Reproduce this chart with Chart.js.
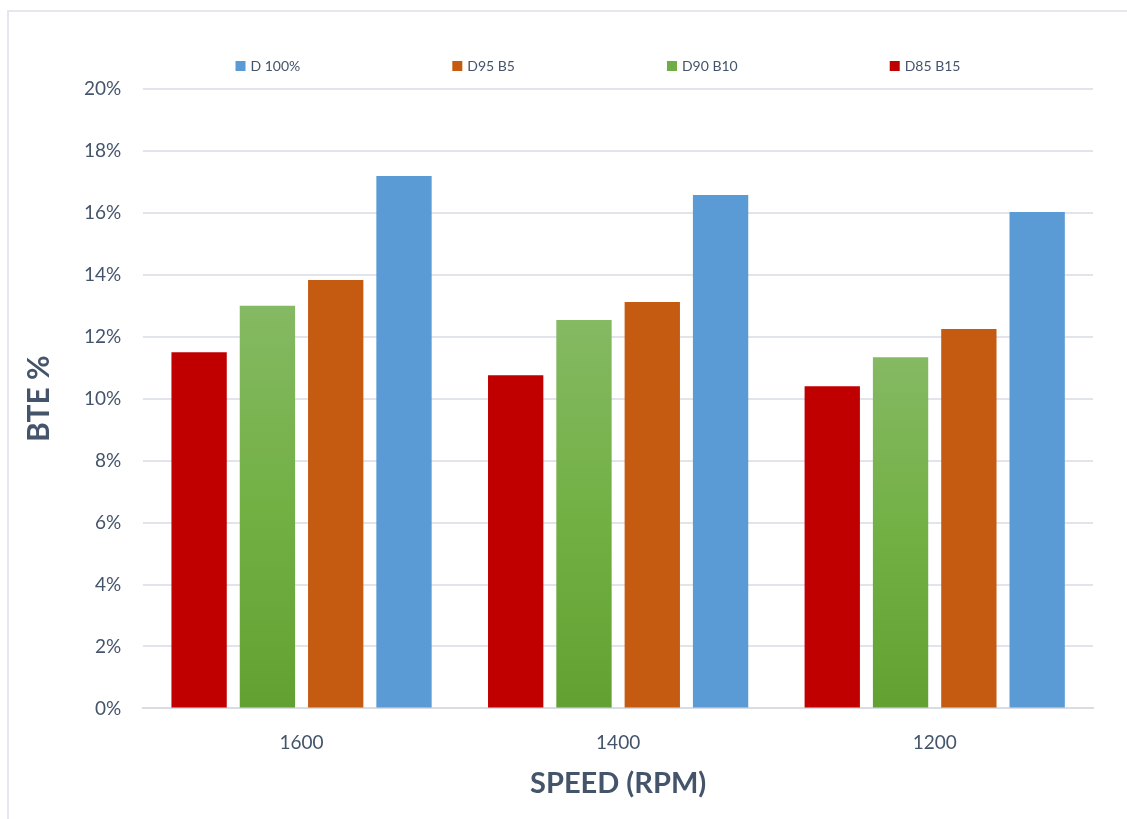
<!DOCTYPE html>
<html>
<head>
<meta charset="utf-8">
<script src="https://cdn.jsdelivr.net/npm/chart.js@4/dist/chart.umd.min.js"></script>
<style>
  html, body { margin: 0; padding: 0; background: #fff; }
  #wrap { position: relative; width: 1127px; height: 819px; }
  #frame { position: absolute; left: 7px; top: 10px; right: 0; bottom: 0;
           border-left: 2px solid #e4e7ed; border-top: 2px solid #e4e7ed; }
  canvas { position: absolute; left: 0; top: 0; }
</style>
</head>
<body>
<div id="wrap">
  <div id="frame"></div>
  <canvas id="c" width="1127" height="819"></canvas>
</div>
<script>
// Engine speeds on the x axis
const speeds = ['1600', '1400', '1200'];

// Brake thermal efficiency (%) for each fuel blend
const d85b15 = [11.5, 10.76, 10.4];
const d90b10 = [13.0, 12.54, 11.34];
const d95b5  = [13.83, 13.12, 12.25];
const d100   = [17.19, 16.58, 16.03];

const yTicks = [0, 2, 4, 6, 8, 10, 12, 14, 16, 18, 20];

const textColor = '#44546a';
const font = 'Lato, "Open Sans", sans-serif';

// Green bars fade from a lighter top to a deeper base
function greenFill(ctx) {
  const chart = ctx.chart;
  const area = chart.chartArea;
  if (!area || ctx.type !== 'data') return '#70ad47';
  const y = chart.scales.y;
  const top = y.getPixelForValue(ctx.raw);
  const bottom = y.getPixelForValue(0);
  if (!isFinite(top) || bottom - top < 1) return '#70ad47';
  const g = chart.ctx.createLinearGradient(0, top, 0, bottom);
  g.addColorStop(0, '#85b963');
  g.addColorStop(0.5, '#72b044');
  g.addColorStop(1, '#62a131');
  return g;
}

// Wide, evenly padded legend row above the plot (series listed in reverse)
const spacedLegend = {
  id: 'spacedLegend',
  afterDraw(chart, args, opts) {
    const ctx = chart.ctx;
    const items = chart.data.datasets.map((ds, i) => ({
      text: ds.label,
      color: ds.legendColor || ds.backgroundColor
    })).reverse();
    ctx.save();
    ctx.font = opts.fontSize + 'px ' + font;
    const widths = items.map(it => opts.box + opts.gap + ctx.measureText(it.text).width);
    const total = widths.reduce((a, b) => a + b, 0) + opts.padding * (items.length - 1);
    let x = opts.centerX - total / 2;
    ctx.textBaseline = 'middle';
    ctx.textAlign = 'left';
    items.forEach((it, i) => {
      ctx.fillStyle = it.color;
      ctx.fillRect(x, opts.y - opts.box / 2, opts.box, opts.box);
      ctx.fillStyle = textColor;
      ctx.fillText(it.text, x + opts.box + opts.gap, opts.y);
      x += widths[i] + opts.padding;
    });
    ctx.restore();
  }
};

const barOpts = { barPercentage: 0.81, categoryPercentage: 0.863, borderWidth: 0 };

new Chart(document.getElementById('c'), {
  type: 'bar',
  data: {
    labels: speeds,
    datasets: [
      { label: 'D85 B15', data: d85b15, backgroundColor: '#c00000', ...barOpts },
      { label: 'D90 B10', data: d90b10, backgroundColor: greenFill, legendColor: '#70ad47', ...barOpts },
      { label: 'D95 B5',  data: d95b5,  backgroundColor: '#c55a11', ...barOpts },
      { label: 'D 100%',  data: d100,   backgroundColor: '#5b9bd5', ...barOpts }
    ]
  },
  plugins: [spacedLegend],
  options: {
    responsive: false,
    animation: false,
    layout: { padding: { left: 21, right: 34, top: 89, bottom: 18 } },
    plugins: {
      tooltip: { enabled: false },
      legend: { display: false },
      spacedLegend: { centerX: 598, y: 66, box: 10, gap: 5, padding: 152, fontSize: 14 }
    },
    scales: {
      x: {
        grid: { display: false },
        border: { color: '#d9dce3', width: 2 },
        ticks: { color: textColor, font: { family: font, size: 19 }, padding: 15 },
        title: {
          display: true,
          text: 'SPEED (RPM)',
          color: textColor,
          font: { family: font, size: 29, weight: 'bold' },
          padding: { top: -3, bottom: 0 }
        }
      },
      y: {
        min: 0,
        max: 20,
        afterBuildTicks(axis) { axis.ticks = yTicks.map(v => ({ value: v })); },
        grid: { color: '#e1e4ea', lineWidth: 2, drawTicks: false },
        border: { display: false },
        ticks: {
          color: textColor,
          font: { family: font, size: 19 },
          padding: 22,
          callback: v => v + '%'
        },
        title: {
          display: true,
          text: 'BTE %',
          color: textColor,
          font: { family: font, size: 30, weight: 'bold' },
          padding: { top: 0, bottom: 5 }
        }
      }
    }
  }
});
</script>
</body>
</html>
